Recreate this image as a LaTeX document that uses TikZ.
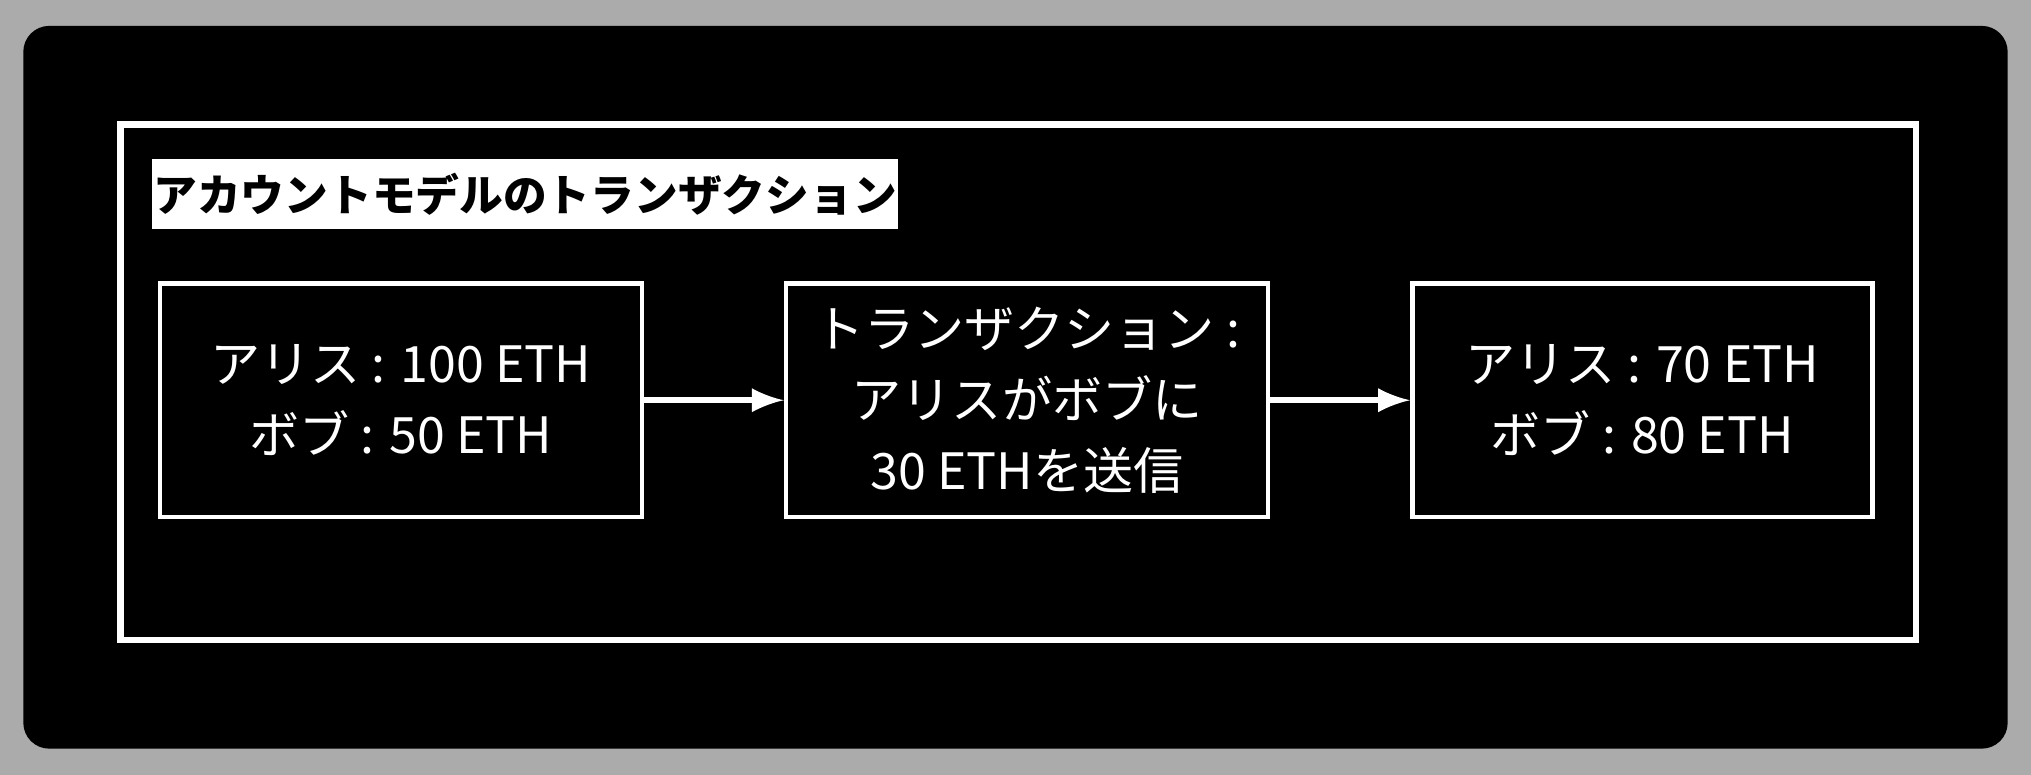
\documentclass[tikz,border=0pt]{standalone}
\usepackage{fontspec}
\setmainfont{Noto Sans CJK JP}
\usetikzlibrary{positioning}
\colorlet{mygray}{black!33}
\tikzset{every node/.style={font=\rmfamily},
  stagebox/.style={draw=white, line width=1pt, minimum width=3.72cm, minimum height=1.8cm,
    text=white, align=center, font=\fontsize{11}{15.5}\selectfont, inner sep=0pt},
  flowarrow/.style={->, >=latex, white, line width=1.4pt}}

\begin{document}
\begin{tikzpicture}[x=0.01cm, y=-0.01cm]
  % 背景
  \fill[mygray] (0,0) rectangle (1568,598);
  \useasboundingbox (0,0) rectangle (1568,598);
  \fill[black, rounded corners=0.2cm] (18,20) rectangle (1550,578);

  % 外框
  \draw[white, line width=1.4pt] (93,96) rectangle (1479,494);

  % 标题
  \node[fill=white, text=black, anchor=north west, minimum width=5.75cm, minimum height=0.54cm,
        inner sep=0pt, font=\fontsize{9.6}{12}\bfseries\selectfont] (title) at (117,122)
        {アカウントモデルのトランザクション};

  % 三个框
  \node[stagebox] (before) at (309.5,309) {アリス : 100 ETH\\ボブ : 50 ETH};
  \node[stagebox] (tx) at (793,309) {トランザクション :\\アリスがボブに\\30 ETHを送信};
  \node[stagebox, minimum width=3.55cm] (after) at (1268,309) {アリス : 70 ETH\\ボブ : 80 ETH};

  \draw[flowarrow] (before) -- (tx);
  \draw[flowarrow] (tx) -- (after);
\end{tikzpicture}
\end{document}
